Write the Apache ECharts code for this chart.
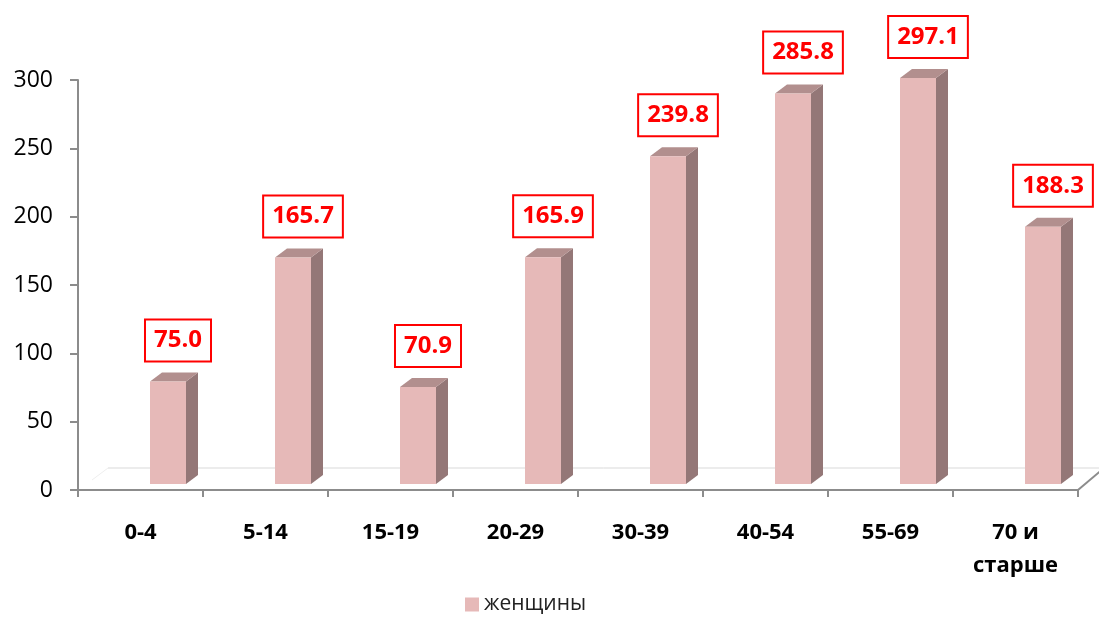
<!DOCTYPE html>
<html>
<head>
<meta charset="utf-8">
<script src="https://cdn.jsdelivr.net/npm/echarts@6/dist/echarts.min.js"></script>
<style>
  html, body { margin: 0; padding: 0; background: #fff; }
  #chart { width: 1099px; height: 622px; }
</style>
</head>
<body>
<div id="chart"></div>
<script>
// данные
const categories = ['0-4', '5-14', '15-19', '20-29', '30-39', '40-54', '55-69', '70 и\nстарше']
const values = [75.0, 165.7, 70.9, 165.9, 239.8, 285.8, 297.1, 188.3]
const seriesName = 'женщины'
const yTicks = { min: 0, max: 300, interval: 50 }

// layout / colours
const GRID = { left: 78, right: 21, top: 80, bottom: 132 }
const FONT = '"Open Sans", "Noto Sans", sans-serif'
const frontColor = '#E6B9B8'
const sideColor = '#947777'
const topColor = '#B28F8E'
const axisColor = '#8c8c8c'

// 3D bar look
const BAR_W = 36
const BAR_SHIFT = 9.5   // front face offset from category centre
const LIFT = 6          // base sits a bit above the axis line (floor depth)
const DEPTH_X = 12
const DEPTH_Y = 9

const chart = echarts.init(document.getElementById('chart'))

const renderBar = (params, api) => {
  const i = api.value(0)
  const v = api.value(1)
  const base = api.coord([i, 0])
  const top = api.coord([i, v])
  const x = base[0] + BAR_SHIFT
  const y0 = base[1] - LIFT
  const y1 = top[1] - LIFT
  const xr = x + BAR_W
  return {
    type: 'group',
    children: [
      {
        type: 'polygon',
        shape: { points: [[xr, y1], [xr + DEPTH_X, y1 - DEPTH_Y], [xr + DEPTH_X, y0 - DEPTH_Y], [xr, y0]] },
        style: { fill: sideColor }
      },
      {
        type: 'polygon',
        shape: { points: [[x, y1], [x + DEPTH_X, y1 - DEPTH_Y], [xr + DEPTH_X, y1 - DEPTH_Y], [xr, y1]] },
        style: { fill: topColor }
      },
      {
        type: 'rect',
        shape: { x: x, y: y1, width: BAR_W, height: y0 - y1 },
        style: { fill: frontColor }
      },
      {
        type: 'text',
        x: x + BAR_W / 2 + 10,
        y: y1 - 21,
        style: {
          text: v.toFixed(1),
          fill: '#ff0000',
          font: 'bold 24px ' + FONT,
          align: 'center',
          verticalAlign: 'bottom',
          lineHeight: 28,
          backgroundColor: '#fff',
          borderColor: '#ff0000',
          borderWidth: 2,
          padding: [6, 8]
        }
      }
    ]
  }
}

const x0 = GRID.left
const x1 = 1099 - GRID.right
const yAxisY = 622 - GRID.bottom
const floorY = yAxisY - 22

chart.setOption({
  animation: false,
  grid: { left: GRID.left, right: GRID.right, top: GRID.top, bottom: GRID.bottom, containLabel: false },
  legend: {
    data: [{ name: seriesName, icon: 'rect' }],
    left: 460,
    bottom: 2,
    itemWidth: 14,
    itemHeight: 14,
    itemGap: 6,
    textStyle: { fontFamily: FONT, fontSize: 21, color: '#222' }
  },
  xAxis: {
    type: 'category',
    data: categories,
    boundaryGap: true,
    axisLine: { lineStyle: { color: axisColor, width: 2 } },
    axisTick: { show: true, length: 7, lineStyle: { color: axisColor, width: 2 } },
    axisLabel: {
      interval: 0,
      margin: 26,
      color: '#000',
      fontFamily: FONT,
      fontWeight: 'bold',
      fontSize: 22,
      lineHeight: 33
    },
    splitLine: { show: false }
  },
  yAxis: {
    type: 'value',
    min: yTicks.min,
    max: yTicks.max,
    interval: yTicks.interval,
    axisLine: { show: true, lineStyle: { color: axisColor, width: 2 } },
    axisTick: { show: true, length: 8, lineStyle: { color: axisColor, width: 2 } },
    axisLabel: { margin: 25, color: '#000', fontFamily: FONT, fontSize: 23 },
    splitLine: { show: false }
  },
  graphic: [
    // back edge of the floor
    { type: 'line', z: 0, shape: { x1: x0 + 30, y1: floorY, x2: 1099, y2: floorY }, style: { stroke: '#d9d9d9', lineWidth: 1 } },
    // left / right floor edges
    { type: 'line', z: 0, shape: { x1: x0 + 14, y1: yAxisY - 10, x2: x0 + 30, y2: floorY }, style: { stroke: '#eeeeee', lineWidth: 1 } },
    { type: 'line', z: 0, shape: { x1: x1, y1: yAxisY, x2: x1 + 26, y2: floorY }, style: { stroke: axisColor, lineWidth: 2 } }
  ],
  series: [{
    name: seriesName,
    type: 'custom',
    renderItem: renderBar,
    itemStyle: { color: frontColor },
    encode: { x: 0, y: 1 },
    data: values.map((v, i) => [i, v]),
    z: 3
  }]
})
</script>
</body>
</html>
